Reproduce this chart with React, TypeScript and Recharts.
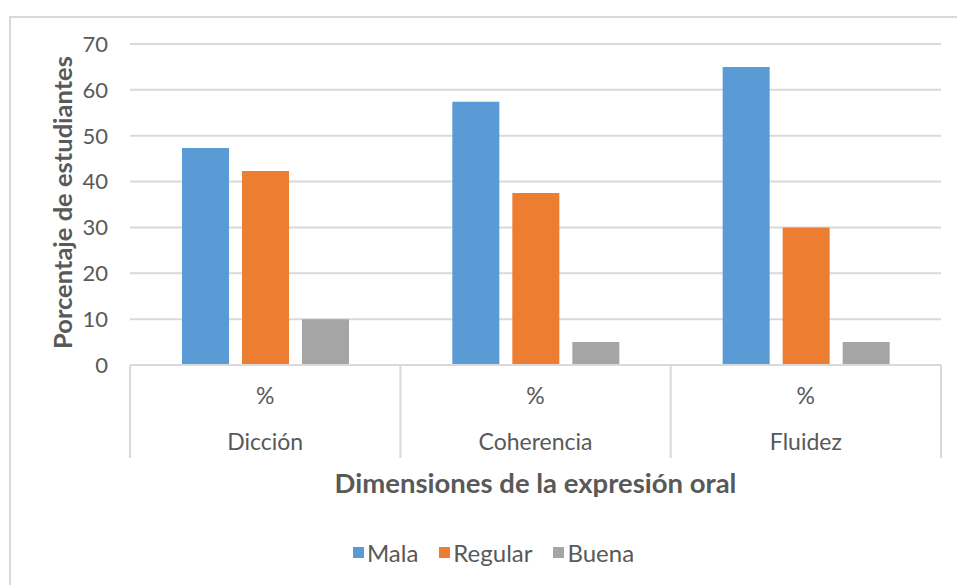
import React from 'react';
import { BarChart, Bar, XAxis, YAxis, CartesianGrid, Legend } from 'recharts';

// values
const categories = ['Dicción', 'Coherencia', 'Fluidez'];
const subLabels = ['%', '%', '%'];
const mala = [47.3, 57.4, 65];
const regular = [42.3, 37.5, 30];
const buena = [10, 5, 5];
const yTicks = [0, 10, 20, 30, 40, 50, 60, 70];

const series = [
  { key: 'mala', name: 'Mala', color: '#5B9BD5' },
  { key: 'regular', name: 'Regular', color: '#ED7D31' },
  { key: 'buena', name: 'Buena', color: '#A5A5A5' },
];

const data = categories.map((c, i) => ({
  category: c,
  sub: subLabels[i],
  mala: mala[i],
  regular: regular[i],
  buena: buena[i],
}));

const FONT = 'Lato, "Noto Sans", sans-serif';
const TEXT = '#595959';
const GRID = '#d9d9d9';

const W = 957;
const H = 585;
const margin = { top: 44, right: 16, left: 30, bottom: 21 };
const Y_AXIS_W = 100;
const plotW = W - margin.left - Y_AXIS_W - margin.right;
const band = plotW / categories.length;

const CategoryTick = ({ x, y, payload }: any) => {
  const i = payload.index;
  const half = band / 2;
  return (
    <g>
      <line x1={x - half} y1={y} x2={x - half} y2={y + 93} stroke={GRID} strokeWidth={2} />
      {i === categories.length - 1 && (
        <line x1={x + half} y1={y} x2={x + half} y2={y + 93} stroke={GRID} strokeWidth={2} />
      )}
      <text x={x} y={y + 30} textAnchor="middle" dominantBaseline="central" fill={TEXT} fontSize={23} fontFamily={FONT}>
        {subLabels[i]}
      </text>
      <text x={x} y={y + 76} textAnchor="middle" dominantBaseline="central" fill={TEXT} fontSize={23} fontFamily={FONT}>
        {payload.value}
      </text>
    </g>
  );
};

const LegendContent = () => (
  <div
    style={{
      display: 'flex',
      justifyContent: 'center',
      alignItems: 'center',
      height: 24,
      paddingLeft: 16,
      fontFamily: FONT,
      fontSize: 24,
      color: TEXT,
      gap: 21,
    }}
  >
    {series.map((s) => (
      <div key={s.key} style={{ display: 'flex', alignItems: 'center' }}>
        <span style={{ width: 11, height: 11, background: s.color, marginRight: 3, display: 'inline-block' }} />
        <span>{s.name}</span>
      </div>
    ))}
  </div>
);

export default function App() {
  return (
    <div style={{ position: 'absolute', left: 0, top: 0, width: W, height: H, overflow: 'hidden', background: '#fff' }}>
      <div
        style={{
          position: 'absolute',
          left: 9,
          top: 16,
          width: W,
          height: H,
          borderTop: `2px solid ${GRID}`,
          borderLeft: `2px solid ${GRID}`,
        }}
      />
      <BarChart width={W} height={H} data={data} margin={margin} barSize={47} barGap={13}>
        <CartesianGrid vertical={false} stroke={GRID} strokeWidth={2} />
        <XAxis
          dataKey="category"
          height={175}
          axisLine={{ stroke: GRID, strokeWidth: 2 }}
          tickLine={false}
          tickSize={0}
          tickMargin={0}
          interval={0}
          tick={<CategoryTick />}
          label={({ viewBox }: any) => (
            <text
              x={viewBox.x + viewBox.width / 2}
              y={viewBox.y + 117}
              textAnchor="middle"
              dominantBaseline="central"
              fill={TEXT}
              fontSize={27.5}
              fontWeight={700}
              fontFamily={FONT}
            >
              Dimensiones de la expresión oral
            </text>
          )}
        />
        <YAxis
          width={Y_AXIS_W}
          domain={[0, 70]}
          ticks={yTicks}
          axisLine={false}
          tickLine={false}
          tickSize={0}
          tickMargin={22}
          tick={{ fill: TEXT, fontSize: 22, fontFamily: FONT }}
          label={({ viewBox }: any) => {
            const cx = viewBox.x + 32;
            const cy = viewBox.y + viewBox.height / 2 - 2;
            return (
              <text
                x={cx}
                y={cy}
                transform={`rotate(-90, ${cx}, ${cy})`}
                textAnchor="middle"
                dominantBaseline="central"
                fill={TEXT}
                fontSize={25.5}
                fontWeight={700}
                fontFamily={FONT}
              >
                Porcentaje de estudiantes
              </text>
            );
          }}
        />
        <Legend verticalAlign="bottom" content={<LegendContent />} />
        {series.map((s) => (
          <Bar key={s.key} dataKey={s.key} name={s.name} fill={s.color} isAnimationActive={false} />
        ))}
      </BarChart>
    </div>
  );
}
